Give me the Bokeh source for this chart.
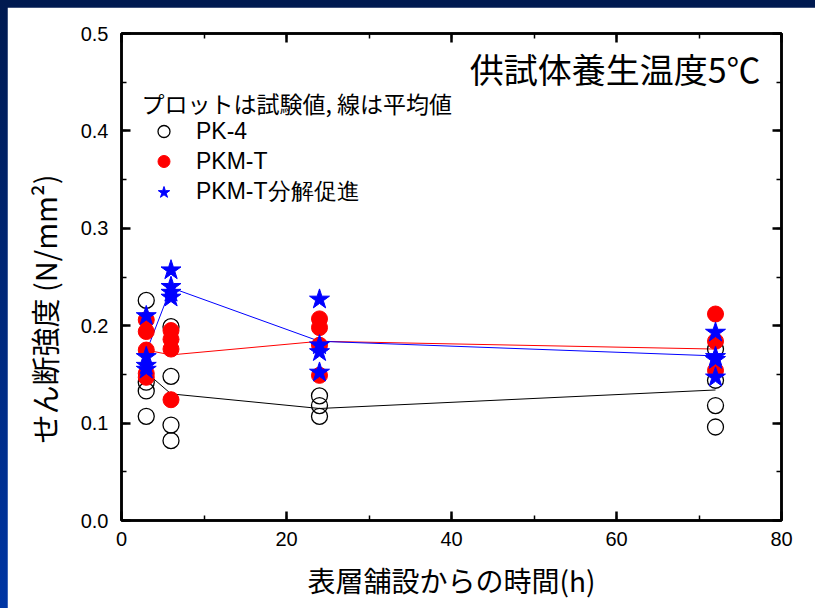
from bokeh.plotting import figure
from bokeh.models import (Range1d, LinearAxis, SingleIntervalTicker, Label, Legend,
                          LegendItem, CustomJSTickFormatter, PrintfTickFormatter, Title)
from bokeh.embed import file_html
from bokeh.resources import INLINE

# ---- data ----
hours = [3, 6, 24, 72]

pk4_x = [3, 3, 3, 3, 6, 6, 6, 6, 24, 24, 24, 72, 72, 72, 72]
pk4_y = [0.226, 0.142, 0.133, 0.107, 0.199, 0.148, 0.098, 0.082,
         0.128, 0.118, 0.107, 0.176, 0.144, 0.118, 0.096]
pk4_mean = [0.152, 0.130, 0.115, 0.134]

pkmt_x = [3, 3, 3, 3, 3, 6, 6, 6, 6, 24, 24, 24, 24, 72, 72, 72]
pkmt_y = [0.206, 0.194, 0.175, 0.151, 0.147, 0.195, 0.186, 0.176, 0.124,
          0.207, 0.198, 0.180, 0.149, 0.212, 0.184, 0.154]
pkmt_mean = [0.175, 0.170, 0.184, 0.176]

pkmtd_x = [3, 3, 3, 3, 6, 6, 6, 6, 24, 24, 24, 24, 72, 72, 72, 72]
pkmtd_y = [0.210, 0.168, 0.159, 0.155, 0.257, 0.240, 0.234, 0.229,
           0.227, 0.180, 0.173, 0.152, 0.193, 0.168, 0.165, 0.147]
pkmtd_mean = [0.173, 0.239, 0.184, 0.169]

series_labels = ["PK-4", "PKM-T", "PKM-T分解促進"]
title_text = "供試体養生温度5℃"
note_text = "プロットは試験値, 線は平均値"
x_label = "表層舗設からの時間(h)"
y_label = "せん断強度 (N/mm²)"

JP = "Noto Sans CJK JP"
TICKFONT = "Liberation Sans"

p = figure(width=808, height=601, output_backend="svg", toolbar_location=None,
           x_range=Range1d(0, 80), y_range=Range1d(0, 0.5),
           min_border_left=114, min_border_right=34, min_border_top=26,
           min_border_bottom=88, background_fill_color="white",
           border_fill_color="white")
p.xgrid.visible = False
p.ygrid.visible = False
p.outline_line_color = "black"
p.outline_line_width = 2.5

p.xaxis.ticker = SingleIntervalTicker(interval=20, num_minor_ticks=2)
p.yaxis.ticker = SingleIntervalTicker(interval=0.1, num_minor_ticks=2)
p.yaxis.formatter = PrintfTickFormatter(format="%.1f")

def style_axis(ax):
    ax.axis_line_width = 2.5
    ax.axis_line_color = "black"
    ax.major_tick_in = 9
    ax.major_tick_out = 0
    ax.minor_tick_in = 5
    ax.minor_tick_out = 0
    ax.major_tick_line_width = 2.5
    ax.minor_tick_line_width = 1.5
    ax.major_tick_line_color = "black"
    ax.minor_tick_line_color = "black"
    ax.major_label_text_font = TICKFONT
    ax.major_label_text_font_size = "20px"
    ax.major_label_text_color = "black"

for ax in p.xaxis + p.yaxis:
    style_axis(ax)
p.xaxis.major_label_standoff = 11
p.yaxis.major_label_standoff = 13
p.xaxis.axis_label = x_label
p.xaxis.axis_label_text_font = JP
p.xaxis.axis_label_text_font_size = "28px"
p.xaxis.axis_label_text_font_style = "normal"
p.xaxis.axis_label_text_color = "black"
p.xaxis.axis_label_standoff = 11

top = LinearAxis(ticker=SingleIntervalTicker(interval=20, num_minor_ticks=2),
                 formatter=CustomJSTickFormatter(code="return ''"))
right = LinearAxis(ticker=SingleIntervalTicker(interval=0.1, num_minor_ticks=2),
                   formatter=CustomJSTickFormatter(code="return ''"))
style_axis(top)
style_axis(right)
top.major_label_standoff = 0
right.major_label_standoff = 0
p.add_layout(top, "above")
p.add_layout(right, "right")

# y-axis title as a side title (sits below centre like the reference)
p.add_layout(Title(text=y_label, text_font=JP, text_font_size="29px",
                   text_font_style="normal", text_color="black",
                   align="left", offset=77, standoff=26), "left")

# mean lines
p.line(hours, pk4_mean, line_color="black", line_width=1)
p.line(hours, pkmt_mean, line_color="red", line_width=1)
p.line(hours, pkmtd_mean, line_color="blue", line_width=1)

# points
r1 = p.scatter(pk4_x, pk4_y, marker="circle", size=16, fill_color=None,
               line_color="black", line_width=1.3)
r2 = p.scatter(pkmt_x, pkmt_y, marker="circle", size=16, fill_color="red",
               line_color="red", line_width=1)
r3 = p.scatter(pkmtd_x, pkmtd_y, marker="star", size=21, fill_color="blue",
               line_color="blue", line_width=1)

legend = Legend(items=[LegendItem(label=series_labels[0], renderers=[r1]),
                       LegendItem(label=series_labels[1], renderers=[r2]),
                       LegendItem(label=series_labels[2], renderers=[r3])],
                location=(20, 313), orientation="vertical",
                glyph_width=45, glyph_height=30, label_standoff=10, spacing=0,
                padding=0, margin=0, border_line_color=None,
                background_fill_alpha=0, label_text_font="Liberation Sans",
                label_text_font_size="23px", label_height=20,
                label_text_color="black")
p.add_layout(legend)

p.add_layout(Label(x=20, y=418, x_units="screen", y_units="screen",
                   text=note_text, text_font=JP, text_font_size="23px",
                   text_baseline="middle", text_align="left", text_color="black"))
p.add_layout(Label(x=639, y=452, x_units="screen", y_units="screen",
                   text=title_text, text_font=JP, text_font_size="34px",
                   text_baseline="middle", text_align="right", text_color="black"))

html = file_html(p, INLINE)
css = ("<style>html,body{margin:0!important;height:100%;"
       "background:linear-gradient(to bottom,#001a50 0%,#0036a4 100%)!important;}"
       "body{padding:7px 0 0 7px!important;box-sizing:border-box;}</style>")
html = html.replace("</head>", css + "</head>", 1)
open("out.html", "w").write(html)
